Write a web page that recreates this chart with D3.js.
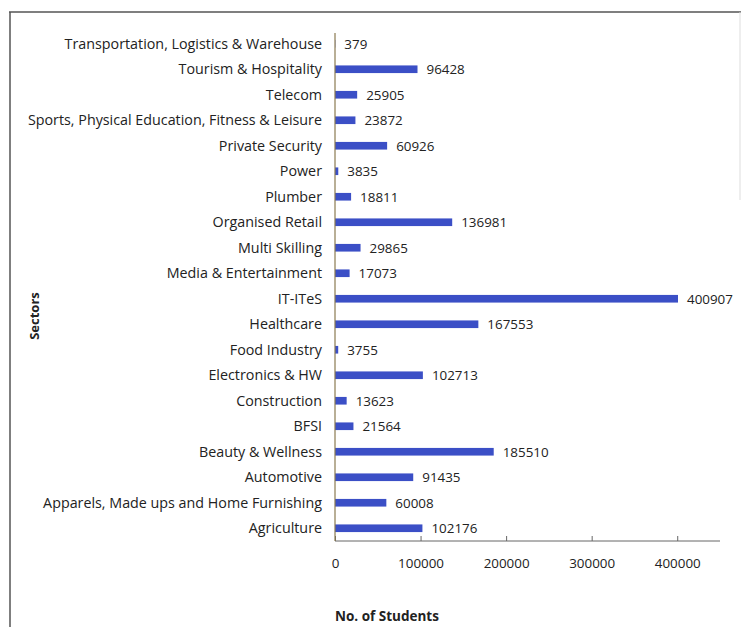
<!DOCTYPE html>
<html><head><meta charset="utf-8">
<script src="https://cdn.jsdelivr.net/npm/d3@7"></script>
<style>body{margin:0;background:#fff;} svg{display:block;}</style>
</head><body>
<script>
const sectors = ["Transportation, Logistics & Warehouse","Tourism & Hospitality","Telecom","Sports, Physical Education, Fitness & Leisure","Private Security","Power","Plumber","Organised Retail","Multi Skilling","Media & Entertainment","IT-ITeS","Healthcare","Food Industry","Electronics & HW","Construction","BFSI","Beauty & Wellness","Automotive","Apparels, Made ups and Home Furnishing","Agriculture"];
const students = [379,96428,25905,23872,60926,3835,18811,136981,29865,17073,400907,167553,3755,102713,13623,21564,185510,91435,60008,102176];
const xTicks = [0,100000,200000,300000,400000];

const W=742,H=627;
const svg=d3.select("body").append("svg").attr("width",W).attr("height",H);
const font="'Open Sans', Lato, sans-serif";
// frame
svg.append("line").attr("x1",9).attr("x2",741).attr("y1",12).attr("y2",12).attr("stroke","#555").attr("stroke-width",1.5);
svg.append("line").attr("x1",10).attr("x2",10).attr("y1",12).attr("y2",627).attr("stroke","#555").attr("stroke-width",1.5);
svg.append("line").attr("x1",740).attr("x2",740).attr("y1",12).attr("y2",200).attr("stroke","#ddd").attr("stroke-width",1);

const x=d3.scaleLinear().domain([0,450000]).range([335,720]);
const y=d3.scaleBand().domain(sectors).range([31,541]).paddingInner(0.7).paddingOuter(0.35);

const g=svg.append("g").style("font-family",font);
g.selectAll("rect.bar").data(sectors).join("rect").attr("class","bar")
 .attr("x",x(0)).attr("y",d=>y(d)).attr("height",y.bandwidth())
 .attr("width",(d,i)=>x(students[i])-x(0)).attr("fill","#3B4FC6");
g.selectAll("text.val").data(sectors).join("text").attr("class","val")
 .attr("x",(d,i)=>x(students[i])+9).attr("y",d=>y(d)+y.bandwidth()/2).attr("dy","0.36em")
 .attr("font-size",13.4).attr("font-weight",500).attr("fill","#222").text((d,i)=>students[i]);
g.selectAll("text.cat").data(sectors).join("text").attr("class","cat")
 .attr("x",322).attr("y",d=>y(d)+y.bandwidth()/2).attr("dy","0.36em").attr("text-anchor","end")
 .attr("font-size",14.3).attr("font-weight",500).attr("fill","#222").text(d=>d);

// x axis
const ax=svg.append("g").attr("transform","translate(0,541)").call(d3.axisBottom(x).tickValues(xTicks).tickSize(5).tickFormat(d3.format("d")).tickPadding(12));
ax.select(".domain").attr("stroke","#666").attr("d","M335,0H720");
ax.selectAll(".tick line").attr("stroke","#666").attr("y1",-5).attr("y2",0);
ax.selectAll(".tick text").attr("font-family",font).attr("font-size",13.4).attr("font-weight",500).attr("fill","#222");
// y axis line
svg.append("line").attr("x1",335).attr("x2",335).attr("y1",33).attr("y2",541).attr("stroke","#8a7a50").attr("stroke-width",1.2);

svg.append("text").attr("x",335).attr("y",621).attr("font-family",font).attr("font-weight","bold").attr("font-size",13.5).attr("fill","#222").text("No. of Students");
svg.append("text").attr("transform","translate(39,316) rotate(-90)").attr("text-anchor","middle").attr("font-family",font).attr("font-weight","bold").attr("font-size",13).attr("fill","#222").text("Sectors");
</script>
</body></html>
